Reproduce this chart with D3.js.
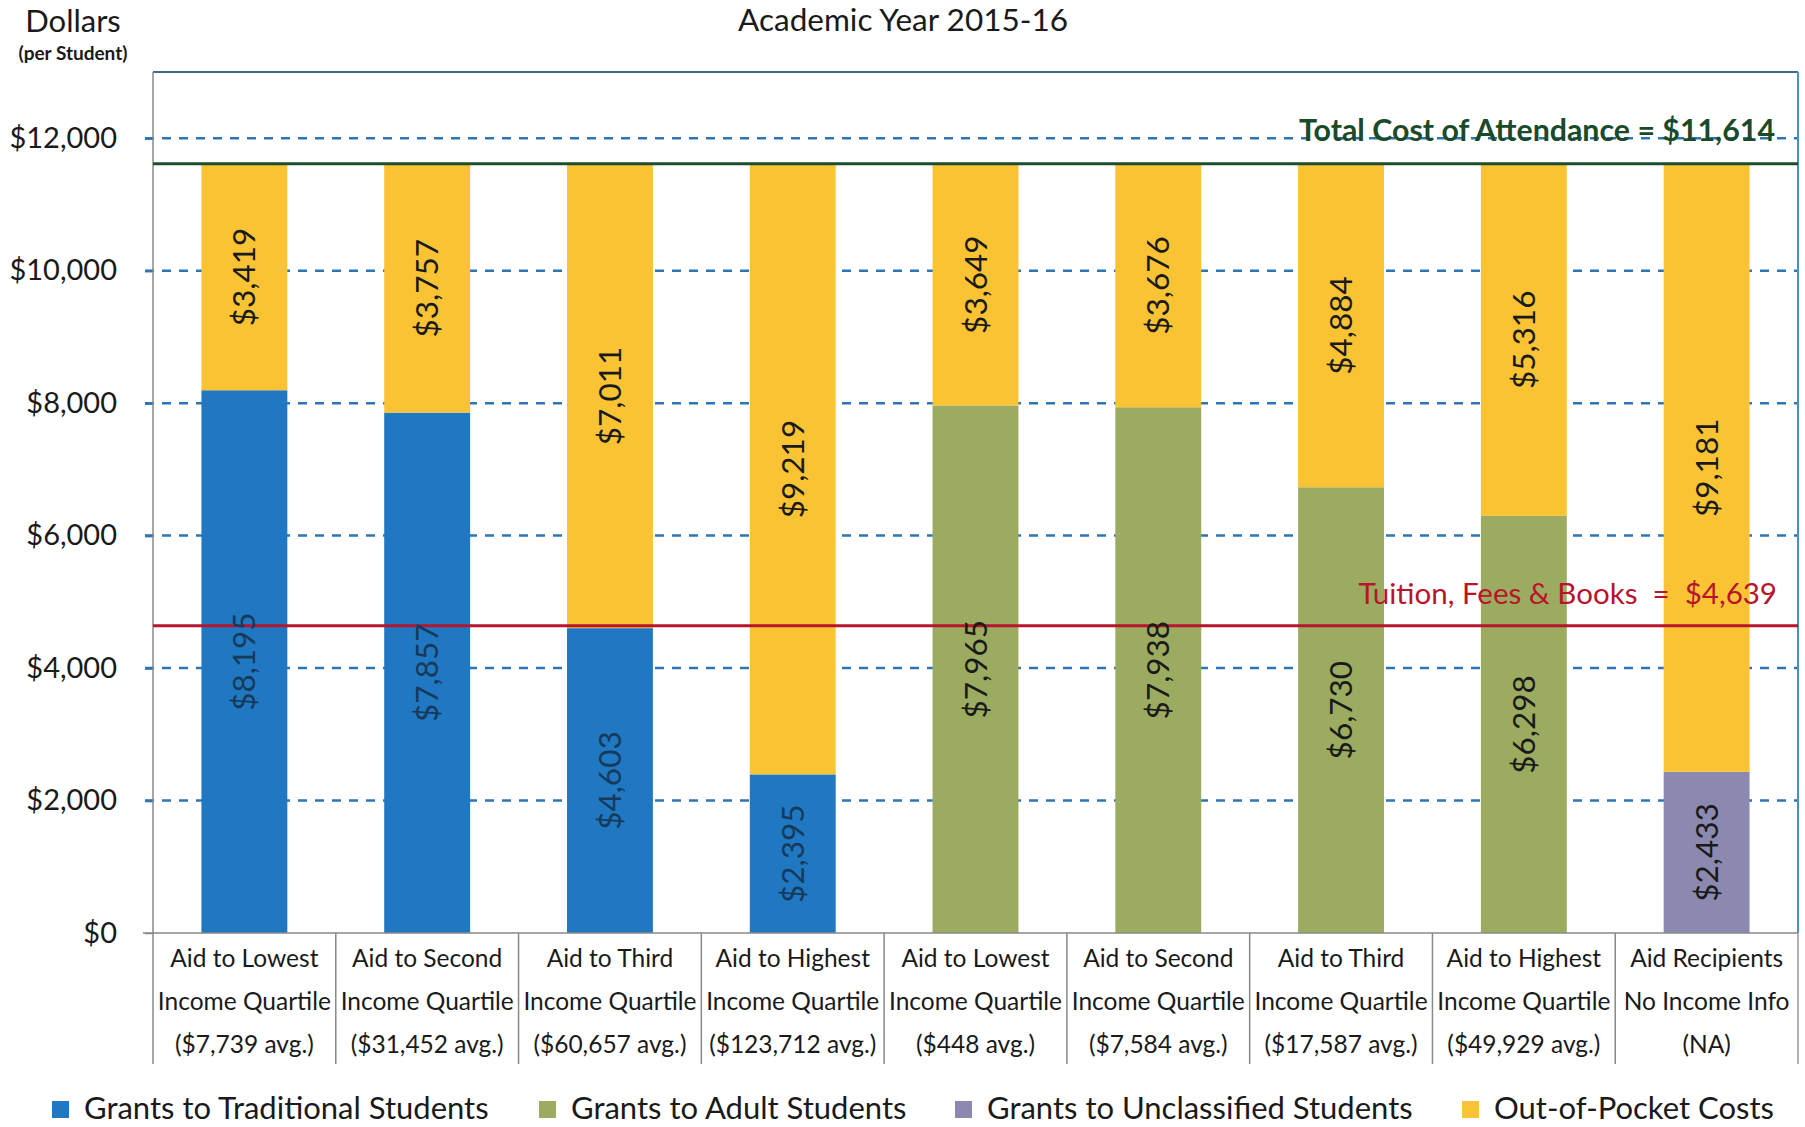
<!DOCTYPE html>
<html><head><meta charset="utf-8">
<script src="https://cdn.jsdelivr.net/npm/d3@7"></script>
<style>
html,body{margin:0;padding:0;background:#fff;}
text{font-family:Lato,"Open Sans",sans-serif;}
</style></head>
<body><svg id="chart" width="1805" height="1127"></svg>
<script>
const categoryLine1 = ["Aid to Lowest","Aid to Second","Aid to Third","Aid to Highest","Aid to Lowest","Aid to Second","Aid to Third","Aid to Highest","Aid Recipients"];
const categoryLine2 = ["Income Quartile","Income Quartile","Income Quartile","Income Quartile","Income Quartile","Income Quartile","Income Quartile","Income Quartile","No Income Info"];
const categoryLine3 = ["($7,739 avg.)","($31,452 avg.)","($60,657 avg.)","($123,712 avg.)","($448 avg.)","($7,584 avg.)","($17,587 avg.)","($49,929 avg.)","(NA)"];
const traditional = [8195,7857,4603,2395,0,0,0,0,0];
const adult = [0,0,0,0,7965,7938,6730,6298,0];
const unclassified = [0,0,0,0,0,0,0,0,2433];
const outOfPocket = [3419,3757,7011,9219,3649,3676,4884,5316,9181];
const yTicks = [0,2000,4000,6000,8000,10000,12000];
const seriesNames = ["Grants to Traditional Students","Grants to Adult Students","Grants to Unclassified Students","Out-of-Pocket Costs"];
const totalCost = 11614;
const tuition = 4639;
const totalLabel = "Total Cost of Attendance = $11,614";
const tuitionLabel = "Tuition, Fees & Books  =  $4,639";

const colors = ["#1f78c1","#9bab5f","#8c89b0","#f9c334"];
const labelColors = ["#163a5c","#1a1a1a","#1a1a1a","#1a1a1a"];

const svg = d3.select("#chart");
const L = 153, R = 1798, T = 72, B = 933;
const idx = d3.range(categoryLine1.length);
const x = d3.scaleBand().domain(idx).range([L,R]).paddingInner(0.53).paddingOuter(0.265);
const y = d3.scaleLinear().domain([0,13000]).range([B,T]);
const fmt = v => "$" + d3.format(",")(v);

// gridlines
svg.append("g").selectAll("line").data(yTicks.filter(d=>d>0)).join("line")
  .attr("x1",L-8).attr("x2",R).attr("y1",d=>y(d)).attr("y2",d=>y(d))
  .attr("stroke","#2e75b6").attr("stroke-width",2.5).attr("stroke-dasharray","9,8");

// stacked bars
const table = idx.map(i => ({i, s0:traditional[i], s1:adult[i], s2:unclassified[i], s3:outOfPocket[i]}));
const stack = d3.stack().keys(["s0","s1","s2","s3"])(table);
const gBars = svg.append("g");
stack.forEach((layer,k)=>{
  gBars.selectAll(null).data(layer.filter(d=>d[1]-d[0]>0)).join("rect")
    .attr("x",d=>x(d.data.i)).attr("width",x.bandwidth())
    .attr("y",d=>y(d[1])).attr("height",d=>y(d[0])-y(d[1]))
    .attr("fill",colors[k]);
});
// y axis
const yAxis = d3.axisLeft(y).tickValues(yTicks).tickFormat(fmt).tickSize(8).tickPadding(28);
const gy = svg.append("g").attr("transform",`translate(${L},0)`).call(yAxis);
gy.select(".domain").remove();
gy.selectAll(".tick line").attr("stroke","#2e75b6").attr("stroke-width",2.5);
gy.selectAll(".tick text").attr("font-size",29).attr("fill","#1a1a1a").attr("font-family","Lato");
gy.selectAll(".tick").filter(d=>d===0).select("line").attr("stroke","#888").attr("stroke-width",1.5);

// frame
svg.append("line").attr("x1",L).attr("x2",R).attr("y1",T).attr("y2",T).attr("stroke","#3d6a8e").attr("stroke-width",2);
svg.append("line").attr("x1",R).attr("x2",R).attr("y1",T).attr("y2",B).attr("stroke","#4a8fc6").attr("stroke-width",2);
svg.append("line").attr("x1",L-10).attr("x2",R).attr("y1",B).attr("y2",B).attr("stroke","#888").attr("stroke-width",1.5);
// category separators (including left axis)
const bounds = idx.map(i=>x(i)-x.step()*x.paddingOuter()).concat([R]);
svg.append("g").selectAll("line").data(bounds).join("line")
  .attr("x1",d=>d).attr("x2",d=>d)
  .attr("y1",(d,i)=> i===0 ? T : B).attr("y2",1064)
  .attr("stroke",(d,i)=> i===bounds.length-1 ? "#999" : "#888").attr("stroke-width",1.5);

// reference lines
svg.append("line").attr("x1",L).attr("x2",R).attr("y1",y(totalCost)).attr("y2",y(totalCost))
  .attr("stroke","#1d4d2c").attr("stroke-width",3);
svg.append("line").attr("x1",L).attr("x2",R).attr("y1",y(tuition)).attr("y2",y(tuition))
  .attr("stroke","#b8142c").attr("stroke-width",3);

// value labels
const gLab = svg.append("g");
stack.forEach((layer,k)=>{
  gLab.selectAll(null).data(layer.filter(d=>d[1]-d[0]>0)).join("text")
    .attr("transform",d=>`translate(${x(d.data.i)+x.bandwidth()/2},${(y(d[0])+y(d[1]))/2}) rotate(-90)`)
    .attr("text-anchor","middle").attr("dy","0.35em")
    .attr("font-size",31.5).attr("fill",labelColors[k])
    .text(d=>fmt(d[1]-d[0]));
});

// reference labels
svg.append("text").attr("x",1775).attr("y",141).attr("text-anchor","end")
  .attr("font-size",30.5).attr("font-weight","bold").attr("fill","#1a4a2a")
  .attr("textLength",476).attr("lengthAdjust","spacingAndGlyphs").text(totalLabel);
svg.append("text").attr("x",1777).attr("y",604).attr("text-anchor","end")
  .attr("font-size",29.5).attr("fill","#b8142c").style("white-space","pre").text(tuitionLabel);

// x category labels
const gx = svg.append("g");
[categoryLine1,categoryLine2,categoryLine3].forEach((arr,li)=>{
  gx.selectAll(null).data(idx).join("text")
    .attr("x",i=>x(i)+x.bandwidth()/2).attr("y",967+li*43)
    .attr("text-anchor","middle").attr("font-size",24.5).attr("fill","#1a1a1a")
    .text(i=>arr[i]);
});

// titles
svg.append("text").attr("x",903).attr("y",31).attr("text-anchor","middle").attr("font-size",31.5).attr("fill","#1a1a1a").text("Academic Year 2015-16");
svg.append("text").attr("x",73).attr("y",32).attr("text-anchor","middle").attr("font-size",31).attr("fill","#1a1a1a").text("Dollars");
svg.append("text").attr("x",73).attr("y",60).attr("text-anchor","middle").attr("font-size",19).attr("font-weight","bold").attr("fill","#1a1a1a").text("(per Student)");

// legend
const legendX = [52,539,955,1462];
const gLeg = svg.append("g");
seriesNames.forEach((n,k)=>{
  gLeg.append("rect").attr("x",legendX[k]).attr("y",1101).attr("width",17).attr("height",17).attr("fill",colors[k]);
  gLeg.append("text").attr("x",legendX[k]+32).attr("y",1119).attr("font-size",31).attr("fill","#1a1a1a").text(n);
});
</script></body></html>
